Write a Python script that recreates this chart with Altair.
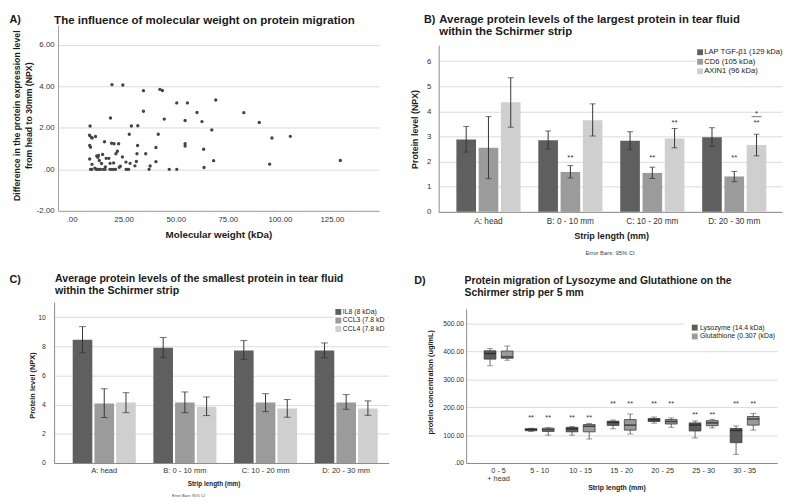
import altair as alt
import pandas as pd

FONT = "Liberation Sans"

# ---------------- Panel A: scatter ----------------
mol_weight = [19.4, 24.6, 34.5, 42.4, 43.6, 50.5, 55.6, 69.2,
              34.5, 60.2, 82.7, 18.7, 44.5, 54.5, 62.6, 90.1,
              8.9, 28.7, 31.8, 67.3, 27.7, 41.6, 96.2, 105.0,
              8.6, 9.4, 9.9, 11.5, 15.8, 19.2, 20.4, 22.6, 31.7,
              54.5, 54.5, 8.7, 9.1, 40.5, 63.4,
              22.0, 21.3, 31.4, 35.6, 14.9, 12.1, 12.6, 12.9, 24.4,
              16.6, 17.9, 8.7, 13.3, 68.2, 129.0,
              26.1, 31.1, 40.5, 18.5, 20.2, 9.8, 14.4, 95.1,
              23.4, 30.4, 37.7, 28.1, 63.6, 22.9, 11.2, 16.2,
              9.1, 9.7, 11.8, 12.4, 13.1, 13.9, 15.2, 16.1, 18.4, 19.3,
              20.1, 21.1, 26.2, 26.8, 27.4, 37.2, 46.9, 50.5]
npx_diff = [4.08, 4.06, 3.79, 3.85, 3.80, 3.20, 3.20, 3.34,
            2.80, 2.74, 2.73, 2.47, 2.42, 2.35, 2.30, 2.26,
            2.09, 2.09, 2.10, 1.90, 1.69, 1.69, 1.51, 1.59,
            1.64, 1.55, 1.51, 1.58, 1.33, 1.26, 1.23, 1.23, 1.15,
            1.23, 1.12, 1.15, 1.07, 1.05, 0.97,
            0.87, 0.75, 0.75, 0.75, 0.72, 0.64, 0.58, 0.67, 0.60,
            0.53, 0.53, 0.50, 0.43, 0.42, 0.43,
            0.35, 0.38, 0.37, 0.29, 0.31, 0.24, 0.28, 0.25,
            0.15, 0.17, 0.16, 0.29, 0.09, 0.10, 0.06, 0.12,
            0.0, 0.0, 0.0, 0.0, 0.0, 0.0, 0.0, 0.0, 0.0, 0.0,
            0.0, 0.0, 0.0, 0.0, 0.0, 0.0, 0.0, 0.0]
a_x_ticks = [0, 25, 50, 75, 100, 125]
a_y_ticks = [-2, 0, 2, 4, 6]

# ---------------- Panel B: largest proteins ----------------
strip_groups = ["A: head", "B: 0 - 10 mm", "C: 10 - 20 mm", "D: 20 - 30 mm"]
large_proteins = ["LAP TGF-β1 (129 kDa)", "CD6 (105 kDa)", "AXIN1 (96 kDa)"]
large_mean = [[2.88, 2.85, 2.83, 2.97], [2.55, 1.59, 1.55, 1.41], [4.36, 3.65, 2.92, 2.66]]
large_lo = [[2.38, 2.50, 2.49, 2.62], [1.32, 1.35, 1.33, 1.20], [3.37, 3.02, 2.55, 2.23]]
large_hi = [[3.40, 3.22, 3.19, 3.35], [3.79, 1.84, 1.78, 1.61], [5.34, 4.30, 3.32, 3.09]]
sig_b_group = ["B: 0 - 10 mm", "C: 10 - 20 mm", "D: 20 - 30 mm", "C: 10 - 20 mm", "D: 20 - 30 mm", "D: 20 - 30 mm"]
sig_b_prot = ["CD6 (105 kDa)", "CD6 (105 kDa)", "CD6 (105 kDa)", "AXIN1 (96 kDa)", "AXIN1 (96 kDa)", "AXIN1 (96 kDa)"]
sig_b_y = [2.23, 2.23, 2.23, 3.62, 3.62, 3.98]
sig_b_text = ["**", "**", "**", "**", "**", "*"]
sig_b_bar_y = [3.79]
b_y_ticks = [0, 1, 2, 3, 4, 5, 6]

# ---------------- Panel C: smallest proteins ----------------
small_proteins = ["IL8 (8 kDa)", "CCL3 (7.8 kD", "CCL4 (7.8 kD"]
small_mean = [[8.45, 7.91, 7.71, 7.71], [4.08, 4.15, 4.15, 4.15], [4.15, 3.86, 3.74, 3.74]]
small_lo = [[7.56, 7.22, 7.11, 7.22], [3.12, 3.45, 3.52, 3.68], [3.45, 3.25, 3.14, 3.27]]
small_hi = [[9.35, 8.61, 8.39, 8.23], [5.09, 4.87, 4.75, 4.69], [4.82, 4.53, 4.35, 4.26]]
c_y_ticks = [0, 2, 4, 6, 8, 10]

# ---------------- Panel D: boxplots ----------------
segments = ["0 - 5", "5 - 10", "10 - 15", "15 - 20", "20 - 25", "25 - 30", "30 - 35"]
substances = ["Lysozyme (14.4 kDa)", "Glutathione (0.307 (kDa)"]
lys_min = [349, 113, 100, 123, 143, 90, 31]
lys_q1 = [373, 116, 112, 135, 149, 115, 73]
lys_med = [393, 120, 123, 146, 155, 136, 117]
lys_q3 = [403, 123, 128, 150, 160, 144, 124]
lys_max = [411, 125, 131, 154, 165, 151, 133]
glu_min = [369, 100, 86, 104, 128, 126, 118]
glu_q1 = [376, 113, 112, 118, 140, 134, 136]
glu_med = [381, 119, 132, 136, 149, 144, 158]
glu_q3 = [402, 125, 138, 156, 156, 152, 167]
glu_max = [420, 127, 142, 176, 162, 157, 178]
sig_d_y = [None, 170, 170, 217, 217, 179, 217]
d_y_ticks = [0, 100, 200, 300, 400, 500]

bar_colors = ["#5f5f5f", "#9b9b9b", "#cfcfcf"]
box_colors = ["#5c5c5c", "#9a9a9a"]

# ---------------- helpers ----------------
one = pd.DataFrame({"k": [0]})


def frame(origin, box):
    ox, oy = origin
    return alt.Chart(one).mark_rect(opacity=0).encode(
        x=alt.value(box[0] - ox), x2=alt.value(box[2] - ox),
        y=alt.value(box[1] - oy), y2=alt.value(box[3] - oy))


def label(s, px, py, origin, size, bold=True, align="left", angle=0, color="#1a1a1a"):
    ox, oy = origin
    kw = dict(text=s, align=align, baseline="middle", fontSize=size, font=FONT,
              fontWeight="bold" if bold else "normal", color=color)
    if angle:
        kw["angle"] = angle
    return alt.Chart(one).mark_text(**kw).encode(x=alt.value(px - ox), y=alt.value(py - oy))


def legend(origin, names, field, scale, sq_x, txt_x, ys, size, box):
    ox, oy = origin
    out = [alt.Chart(one).mark_rect(color="white").encode(
        x=alt.value(box[0] - ox), x2=alt.value(box[2] - ox),
        y=alt.value(box[1] - oy), y2=alt.value(box[3] - oy))]
    for name, yy in zip(names, ys):
        d = pd.DataFrame({field: [name]})
        out.append(alt.Chart(d).mark_square(size=36, opacity=1, strokeWidth=0).encode(
            x=alt.value(sq_x - ox), y=alt.value(yy - oy),
            color=alt.Color(field + ":N", scale=scale, legend=None)))
        out.append(label(name, txt_x, yy, origin, size, bold=False, color="#222"))
    return out


def spacer():
    return alt.Chart(one).mark_rect(opacity=0).encode(
        x=alt.value(0), x2=alt.value(1), y=alt.value(0), y2=alt.value(1)
    ).properties(width=1, height=1)


fmt2 = ("datum.value == 0 ? '.00' : (datum.value < 0 ? '-' + format(-datum.value, '.2f') "
        ": format(datum.value, '.2f'))")

# ================= Panel A =================
OA = (59, 20)
WA, HA = 327, 189
df_a = pd.DataFrame({"mw": mol_weight, "diff": npx_diff})
scatter = alt.Chart(df_a).mark_circle(size=12, color="#454545", opacity=1).encode(
    x=alt.X("mw:Q", scale=alt.Scale(domain=[-6.5, 147.5], nice=False, zero=False),
            axis=alt.Axis(title=None, values=a_x_ticks, labelExpr=fmt2, grid=False, ticks=False,
                          labelFontSize=8, labelPadding=4.5, labelColor="#333",
                          domainColor="#a0a0a0")),
    y=alt.Y("diff:Q", scale=alt.Scale(domain=[-2, 6.93], nice=False, zero=False),
            axis=alt.Axis(title=None, values=a_y_ticks, labelExpr=fmt2, grid=True,
                          gridColor="#d9d9d9", ticks=False, labelFontSize=8, labelPadding=4,
                          labelColor="#333", domainColor="#a0a0a0")),
)
panel_a = alt.layer(
    frame(OA, (9, 9, 400, 242)),
    scatter,
    label("A)", 9.5, 14.5, OA, 11),
    label("The influence of molecular weight on protein migration", 55, 14.5, OA, 11.75),
    label("Difference in the protein expression level", 17, 112, OA, 8.9, align="center", angle=270),
    label("from head to 30mm (NPX)", 29, 112, OA, 8.9, align="center", angle=270),
    label("Molecular weight (kDa)", 223, 234, OA, 10, align="center"),
).properties(width=WA, height=HA)

# ================= Panel B =================
OB = (438, 40)
WB, HB = 350, 170
rows = []
for i, p in enumerate(large_proteins):
    for j, g in enumerate(strip_groups):
        rows.append({"grp": g, "prot": p, "mean": large_mean[i][j],
                     "lo": large_lo[i][j], "hi": large_hi[i][j]})
df_b = pd.DataFrame(rows)
df_sig_b = pd.DataFrame({"grp": sig_b_group, "prot": sig_b_prot, "y": sig_b_y, "t": sig_b_text})
df_bar_b = pd.DataFrame({"grp": ["D: 20 - 30 mm"], "prot": ["AXIN1 (96 kDa)"], "y": sig_b_bar_y})

xb = alt.X("grp:N", sort=strip_groups,
           scale=alt.Scale(domain=strip_groups, paddingInner=0.217, paddingOuter=0.204, align=0.53),
           axis=alt.Axis(title=None, labelAngle=0, ticks=False, labelFontSize=8.4, labelPadding=4.5,
                         labelColor="#333", domainColor="#8a8a8a"))
xob = alt.XOffset("prot:N", sort=large_proteins,
                  scale=alt.Scale(domain=large_proteins, paddingInner=0.119, paddingOuter=0))
axis_b = alt.Axis(title=None, values=b_y_ticks, grid=True, gridColor="#dadada", ticks=False,
                  labelFontSize=8, labelPadding=8, labelColor="#333", domainColor="#8a8a8a")
scale_b = alt.Scale(domain=[0, 6.64], nice=False)
color_b = alt.Scale(domain=large_proteins, range=bar_colors)


def yb(f):
    return alt.Y(f + ":Q", scale=scale_b, axis=axis_b)


bars_b = alt.Chart(df_b).mark_bar().encode(
    x=xb, xOffset=xob, y=yb("mean"),
    color=alt.Color("prot:N", sort=large_proteins, scale=color_b, legend=None))
err_b = alt.Chart(df_b).mark_rule(color="#333", strokeWidth=1).encode(x=xb, xOffset=xob, y=yb("lo"), y2="hi:Q")
cap_lo_b = alt.Chart(df_b).mark_tick(color="#333", thickness=1, size=6).encode(x=xb, xOffset=xob, y=yb("lo"))
cap_hi_b = alt.Chart(df_b).mark_tick(color="#333", thickness=1, size=6).encode(x=xb, xOffset=xob, y=yb("hi"))
sig_b = alt.Chart(df_sig_b).mark_text(fontSize=8, color="#333", font=FONT, dy=2).encode(
    x=xb, xOffset=xob, y=yb("y"), text="t:N")
sigbar_b = alt.Chart(df_bar_b).mark_tick(color="#333", thickness=1, size=10).encode(x=xb, xOffset=xob, y=yb("y"))

panel_b = alt.layer(
    frame(OB, (398, 9, 790, 262)),
    bars_b, err_b, cap_lo_b, cap_hi_b, sig_b, sigbar_b,
    *legend(OB, large_proteins, "prot", color_b, 704.5, 708.7, [47.3, 57.0, 66.7], 7.8,
            (700, 41, 789.5, 72)),
    label("B)", 423, 14.5, OB, 11),
    label("Average protein levels of the largest protein in tear fluid", 438.7, 14.8, OB, 11.55),
    label("within the Schirmer strip", 438.7, 27.2, OB, 11.55),
    label("Protein level (NPX)", 414, 126, OB, 9, align="center", angle=270),
    label("Strip length (mm)", 614.3, 235, OB, 9.2, align="center"),
    label("Error Bars: 95% CI", 612.7, 252, OB, 6, bold=False, align="center", color="#444"),
).properties(width=WB, height=HB)

# ================= Panel C =================
OC = (55, 302)
WC, HC = 341, 164
rows = []
for i, p in enumerate(small_proteins):
    for j, g in enumerate(strip_groups):
        rows.append({"grp": g, "prot": p, "mean": small_mean[i][j],
                     "lo": small_lo[i][j], "hi": small_hi[i][j]})
df_c = pd.DataFrame(rows)
xc = alt.X("grp:N", sort=strip_groups,
           scale=alt.Scale(domain=strip_groups, paddingInner=0.218, paddingOuter=0.183, align=0.63),
           axis=alt.Axis(title=None, labelAngle=0, ticks=False, labelFontSize=7.7, labelPadding=3.5,
                         labelColor="#333", domainColor="#8a8a8a"))
xoc = alt.XOffset("prot:N", sort=small_proteins,
                  scale=alt.Scale(domain=small_proteins, paddingInner=0.097, paddingOuter=0))
axis_c = alt.Axis(title=None, values=c_y_ticks, grid=True, gridColor="#dadada", ticks=False,
                  labelFontSize=7, labelPadding=9, labelColor="#333", domainColor="#8a8a8a")
scale_c = alt.Scale(domain=[0, 11.03], nice=False)
color_c = alt.Scale(domain=small_proteins, range=bar_colors)


def yc(f):
    return alt.Y(f + ":Q", scale=scale_c, axis=axis_c)


bars_c = alt.Chart(df_c).mark_bar().encode(
    x=xc, xOffset=xoc, y=yc("mean"),
    color=alt.Color("prot:N", sort=small_proteins, scale=color_c, legend=None))
err_c = alt.Chart(df_c).mark_rule(color="#333", strokeWidth=1).encode(x=xc, xOffset=xoc, y=yc("lo"), y2="hi:Q")
cap_lo_c = alt.Chart(df_c).mark_tick(color="#333", thickness=1, size=7).encode(x=xc, xOffset=xoc, y=yc("lo"))
cap_hi_c = alt.Chart(df_c).mark_tick(color="#333", thickness=1, size=7).encode(x=xc, xOffset=xoc, y=yc("hi"))

panel_c = alt.layer(
    frame(OC, (9, 242, 403, 504)),
    bars_c, err_c, cap_lo_c, cap_hi_c,
    *legend(OC, small_proteins, "prot", color_c, 344.7, 349.3, [312.0, 320.7, 329.4], 7,
            (340, 306, 396, 334)),
    label("C)", 9.5, 280, OC, 11),
    label("Average protein levels of the smallest protein in tear fluid", 56, 279, OC, 10.8),
    label("within the Schirmer strip", 56, 290.3, OC, 10.8),
    label("Protein level (NPX)", 33.3, 387, OC, 7.6, align="center", angle=270),
    label("Strip length (mm)", 218, 487, OC, 6.5, align="center"),
    label("Error Bars: 95% CI", 192, 499.3, OC, 4, bold=False, align="center", color="#444"),
).properties(width=WC, height=HC)

# ================= Panel D =================
OD = (466, 309)
WD, HD = 317, 157
rows = []
for j, s in enumerate(segments):
    rows.append({"seg": s, "sub": substances[0], "lo": lys_min[j], "q1": lys_q1[j],
                 "med": lys_med[j], "q3": lys_q3[j], "hi": lys_max[j]})
    rows.append({"seg": s, "sub": substances[1], "lo": glu_min[j], "q1": glu_q1[j],
                 "med": glu_med[j], "q3": glu_q3[j], "hi": glu_max[j]})
df_d = pd.DataFrame(rows)
rows = []
for j, s in enumerate(segments):
    if sig_d_y[j] is not None:
        for sub in substances:
            rows.append({"seg": s, "sub": sub, "y": sig_d_y[j], "t": "**"})
df_sig_d = pd.DataFrame(rows)

xd = alt.X("seg:N", sort=segments,
           scale=alt.Scale(domain=segments, paddingInner=0.163, paddingOuter=0.373, align=0.5),
           axis=alt.Axis(title=None, labelAngle=0, ticks=False, labelFontSize=7.5, labelPadding=3.5,
                         labelColor="#333", domainColor="#8a8a8a", labelLineHeight=8.5,
                         labelExpr="datum.label == '0 - 5' ? ['0 - 5', '+ head'] : datum.label"))
xod = alt.XOffset("sub:N", sort=substances,
                  scale=alt.Scale(domain=substances, paddingInner=0, paddingOuter=0))
axis_d = alt.Axis(title=None, values=d_y_ticks, grid=True, gridColor="#dadada", ticks=False,
                  labelFontSize=7, labelPadding=2.5, labelColor="#333", domainColor="#8a8a8a",
                  labelExpr="datum.value == 0 ? '.00' : format(datum.value, '.2f')")
scale_d = alt.Scale(domain=[0, 553], nice=False)
color_d = alt.Scale(domain=substances, range=box_colors)


def yd(f):
    return alt.Y(f + ":Q", scale=scale_d, axis=axis_d)


whisk_d = alt.Chart(df_d).mark_rule(color="#6a6a6a", strokeWidth=1).encode(x=xd, xOffset=xod, y=yd("lo"), y2="hi:Q")
cap_lo_d = alt.Chart(df_d).mark_tick(color="#6a6a6a", thickness=1, size=6).encode(x=xd, xOffset=xod, y=yd("lo"))
cap_hi_d = alt.Chart(df_d).mark_tick(color="#6a6a6a", thickness=1, size=6).encode(x=xd, xOffset=xod, y=yd("hi"))
box_d = alt.Chart(df_d).mark_bar(size=12, stroke="#3c3c3c", strokeWidth=0.8).encode(
    x=xd, xOffset=xod, y=yd("q1"), y2="q3:Q",
    color=alt.Color("sub:N", sort=substances, scale=color_d, legend=None))
med_d = alt.Chart(df_d).mark_tick(color="#1e1e1e", thickness=1.6, size=12).encode(x=xd, xOffset=xod, y=yd("med"))
sig_d = alt.Chart(df_sig_d).mark_text(fontSize=7.5, color="#333", font=FONT, dy=2).encode(
    x=xd, xOffset=xod, y=yd("y"), text="t:N")

panel_d = alt.layer(
    frame(OD, (394, 262, 790, 504)),
    whisk_d, cap_lo_d, cap_hi_d, box_d, med_d, sig_d,
    *legend(OD, substances, "sub", color_d, 699, 704.3, [328.0, 337.0], 7,
            (688, 318, 783, 345)),
    label("D)", 413, 280.3, OD, 11),
    label("Protein migration of Lysozyme and Glutathione on the", 464.3, 281, OD, 10.6),
    label("Schirmer strip per 5 mm", 464.3, 293, OD, 10.6),
    label("protein concentration (ug/mL)", 430, 383.7, OD, 7.5, align="center", angle=270),
    label("Strip length (mm)", 619.7, 491.7, OD, 7.1, align="center"),
).properties(width=WD, height=HD)

chart = alt.concat(
    spacer(), spacer(), spacer(),
    spacer(), panel_a, panel_b,
    spacer(), panel_c, panel_d,
    columns=3, spacing=0, align="none"
).resolve_scale(
    color="independent", x="independent", y="independent", xOffset="independent"
).properties(
    padding=0, background="white"
).configure_view(strokeWidth=0).configure_axis(
    labelFont=FONT, titleFont=FONT
)

chart.save("out.html", embed_options={"renderer": "svg", "actions": False})
